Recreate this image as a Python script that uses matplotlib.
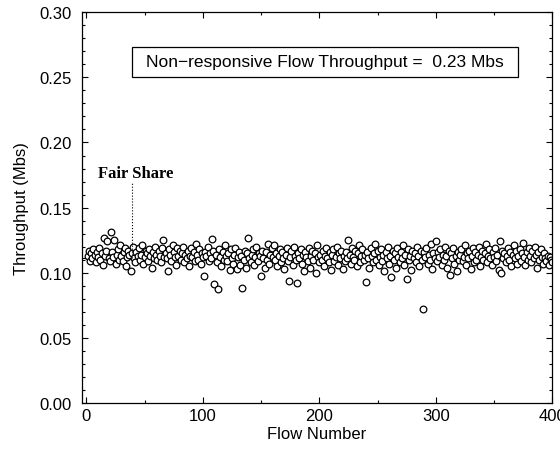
import numpy as np
import matplotlib.pyplot as plt
from matplotlib.patches import Rectangle
from matplotlib.ticker import MultipleLocator

###### dados ######
throughput = [
    0.113, 0.117, 0.109, 0.115, 0.111, 0.118, 0.114, 0.108, 0.116, 0.112, 0.119, 0.110, 0.115, 0.106, 0.127, 0.113, 0.117, 0.124, 0.111, 0.109,
    0.1315, 0.116, 0.112, 0.125, 0.107, 0.114, 0.118, 0.110, 0.121, 0.113, 0.109, 0.116, 0.119, 0.105, 0.112, 0.117, 0.114, 0.1015, 0.115, 0.120,
    0.111, 0.108, 0.116, 0.113, 0.119, 0.110, 0.114, 0.121, 0.107, 0.112, 0.117, 0.115, 0.109, 0.118, 0.113, 0.104, 0.116, 0.111, 0.120, 0.114,
    0.110, 0.117, 0.113, 0.108, 0.119, 0.125, 0.112, 0.115, 0.111, 0.1015, 0.118, 0.114, 0.109, 0.121, 0.116, 0.112, 0.106, 0.119, 0.113, 0.117,
    0.110, 0.115, 0.120, 0.108, 0.114, 0.111, 0.117, 0.105, 0.113, 0.119, 0.112, 0.116, 0.109, 0.122, 0.114, 0.110, 0.118, 0.107, 0.115, 0.112,
    0.0975, 0.116, 0.113, 0.120, 0.109, 0.115, 0.111, 0.126, 0.117, 0.0915, 0.114, 0.108, 0.0877, 0.118, 0.112, 0.105, 0.116, 0.110, 0.121, 0.113,
    0.109, 0.115, 0.102, 0.118, 0.111, 0.107, 0.114, 0.119, 0.103, 0.112, 0.116, 0.106, 0.113, 0.0885, 0.110, 0.117, 0.104, 0.115, 0.127, 0.111,
    0.108, 0.114, 0.118, 0.106, 0.112, 0.120, 0.109, 0.115, 0.113, 0.0977, 0.117, 0.111, 0.104, 0.116, 0.110, 0.122, 0.107, 0.114, 0.119, 0.112,
    0.1215, 0.110, 0.115, 0.105, 0.113, 0.118, 0.108, 0.116, 0.111, 0.103, 0.114, 0.119, 0.109, 0.094, 0.112, 0.117, 0.106, 0.120, 0.113, 0.110,
    0.092, 0.115, 0.111, 0.118, 0.107, 0.114, 0.101, 0.116, 0.112, 0.109, 0.119, 0.104, 0.113, 0.117, 0.110, 0.115, 0.100, 0.121, 0.112, 0.108,
    0.114, 0.110, 0.117, 0.105, 0.113, 0.119, 0.111, 0.108, 0.116, 0.102, 0.114, 0.118, 0.109, 0.112, 0.120, 0.106, 0.115, 0.111, 0.117, 0.103,
    0.113, 0.109, 0.116, 0.111, 0.125, 0.114, 0.107, 0.119, 0.112, 0.110, 0.117, 0.105, 0.115, 0.121, 0.108, 0.113, 0.118, 0.110, 0.114, 0.093,
    0.116, 0.111, 0.104, 0.119, 0.113, 0.108, 0.115, 0.122, 0.110, 0.117, 0.106, 0.112, 0.118, 0.109, 0.114, 0.101, 0.116, 0.111, 0.120, 0.107,
    0.113, 0.097, 0.117, 0.110, 0.115, 0.104, 0.119, 0.112, 0.108, 0.116, 0.111, 0.121, 0.106, 0.114, 0.095, 0.118, 0.110, 0.113, 0.102, 0.117,
    0.111, 0.115, 0.108, 0.120, 0.113, 0.105, 0.117, 0.110, 0.072, 0.116, 0.112, 0.119, 0.107, 0.114, 0.110, 0.122, 0.103, 0.115, 0.111, 0.124,
    0.109, 0.116, 0.112, 0.118, 0.106, 0.114, 0.110, 0.120, 0.113, 0.104, 0.117, 0.098, 0.115, 0.111, 0.119, 0.107, 0.113, 0.101, 0.116, 0.110,
    0.114, 0.118, 0.109, 0.112, 0.121, 0.106, 0.115, 0.111, 0.117, 0.103, 0.113, 0.119, 0.108, 0.116, 0.110, 0.114, 0.120, 0.105, 0.112, 0.117,
    0.110, 0.115, 0.122, 0.108, 0.113, 0.118, 0.111, 0.106, 0.116, 0.112, 0.119, 0.109, 0.114, 0.102, 0.124, 0.100, 0.117, 0.111, 0.115, 0.108,
    0.113, 0.119, 0.110, 0.116, 0.105, 0.114, 0.121, 0.111, 0.117, 0.107, 0.113, 0.118, 0.109, 0.115, 0.123, 0.112, 0.106, 0.116, 0.110, 0.119,
    0.113, 0.108, 0.117, 0.111, 0.120, 0.114, 0.104, 0.116, 0.110, 0.118, 0.112, 0.107, 0.115, 0.111, 0.109, 0.113, 0.106, 0.112, 0.110, 0.108,
]
flow = np.arange(1, len(throughput) + 1)

fair_share = 0.1115
fair_x = 39
nonresp = 0.23
texto_caixa = 'Non\u2212responsive Flow Throughput =  %.2f Mbs' % nonresp

###### figura ######
plt.rcParams['font.family'] = ['Liberation Sans', 'DejaVu Sans']
fig = plt.figure(figsize=(5.6, 4.56), dpi=100)
ax = fig.add_axes([0.146, 0.114, 0.84, 0.857])

ax.axhline(fair_share, color='black', lw=0.8, zorder=1)
ax.plot(flow, throughput, 'o', mfc='white', mec='black', ms=4.8, mew=0.9, zorder=2)

# rotulo da fair share
ax.plot([fair_x, fair_x], [fair_share, 0.170], color='black', lw=0.8, ls=':')
ax.text(fair_x + 3, 0.1765, 'Fair Share', family=['Liberation Serif'], fontweight='bold',
        fontsize=12, ha='center', va='center')

# caixa com o throughput nao responsivo
ax.add_patch(Rectangle((39, 0.2505), 332, 0.0225, fill=False, ec='black', lw=0.9))
ax.text(205, 0.2618, texto_caixa, fontsize=12.5, ha='center', va='center')

ax.set_xlim(-4, 400)
ax.set_ylim(0, 0.30)
ax.set_xticks([0, 100, 200, 300, 400])
ax.set_yticks(np.arange(0, 0.31, 0.05))
ax.yaxis.set_major_formatter(plt.FormatStrFormatter('%.2f'))
ax.xaxis.set_minor_locator(MultipleLocator(50))
ax.yaxis.set_minor_locator(MultipleLocator(0.01))
ax.tick_params(which='both', direction='in', top=True, right=True, labelsize=12)
ax.tick_params(axis='y', pad=7)
ax.tick_params(which='major', length=4, width=0.8)
ax.tick_params(which='minor', length=2.5, width=0.8)
for s in ax.spines.values():
    s.set_linewidth(0.9)

ax.set_xlabel('Flow Number', fontsize=12, labelpad=2)
ax.set_ylabel('Throughput (Mbs)', fontsize=12, labelpad=8)

fig.savefig('out.png', dpi=100)
